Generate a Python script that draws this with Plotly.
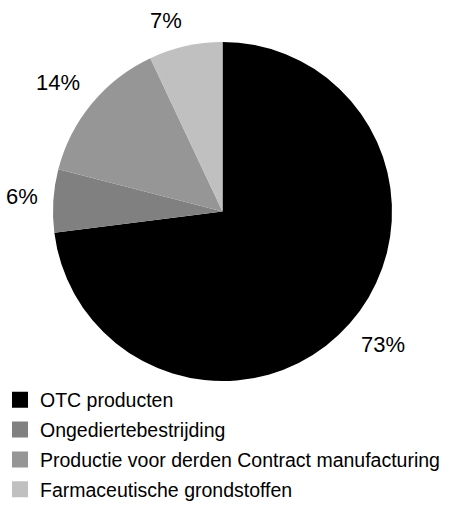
import math
import plotly.graph_objects as go

categories = ["OTC producten", "Ongediertebestrijding",
              "Productie voor derden Contract manufacturing",
              "Farmaceutische grondstoffen"]
values = [73, 6, 14, 7]
colors = ["#000000", "#808080", "#969696", "#c0c0c0"]

W, H = 463, 509
dom_x = [52 / W, 393 / W]
dom_y = [1 - 381 / H, 1 - 42 / H]
FONT = "Liberation Sans, Arial, sans-serif"
LABEL_SIZE = 22

fig = go.Figure()
fig.add_trace(go.Pie(
    labels=categories, values=values, sort=False, direction="clockwise",
    rotation=0, marker=dict(colors=colors, line=dict(width=0)),
    textinfo="none", hoverinfo="label+percent", showlegend=False,
    domain=dict(x=dom_x, y=dom_y),
))

# legend entries (square swatches)
for i, (c, col) in enumerate(zip(categories, colors)):
    fig.add_trace(go.Scatter(
        x=[None], y=[None], mode="markers", name=c, legendgroup=f"g{i}",
        marker=dict(symbol="square", size=16, color=col, line=dict(width=0)),
        showlegend=True,
    ))

# percentage labels placed just outside each slice's mid-angle
cx = (dom_x[0] + dom_x[1]) / 2 * W
cy = (1 - (dom_y[0] + dom_y[1]) / 2) * H
r = min((dom_x[1] - dom_x[0]) * W, (dom_y[1] - dom_y[0]) * H) / 2
total = sum(values)
cum = 0
annotations = []
clip = lambda t: max(-1.0, min(1.0, t))
for v in values:
    mid = (cum + v / 2) / total * 2 * math.pi
    cum += v
    txt = f"{round(v / total * 100)}%"
    ux, uy = math.sin(mid), -math.cos(mid)
    tw = (0.556 * (len(txt) - 1) + 0.889) * LABEL_SIZE
    th = LABEL_SIZE
    d = r + 15
    px = cx + d * ux + tw / 2 * clip(5 * ux)
    py = cy + d * uy + th / 2 * clip(5 * uy)
    annotations.append(dict(
        x=px / W, y=1 - py / H, xref="paper", yref="paper",
        text=txt, showarrow=False,
        font=dict(family=FONT, size=LABEL_SIZE, color="#000000"),
        xanchor="center", yanchor="middle",
    ))

fig.update_layout(
    width=W, height=H, margin=dict(l=0, r=0, t=0, b=0),
    paper_bgcolor="white", plot_bgcolor="white",
    xaxis=dict(visible=False), yaxis=dict(visible=False),
    annotations=annotations,
    legend=dict(
        x=0.0, y=1 - 380.5 / H, xanchor="left", yanchor="top",
        traceorder="grouped", tracegroupgap=1.5,
        font=dict(family=FONT, size=19.5, color="#000000"),
        bgcolor="rgba(0,0,0,0)", itemclick=False, itemdoubleclick=False,
    ),
    showlegend=True,
)

fig.write_html("out.html")
